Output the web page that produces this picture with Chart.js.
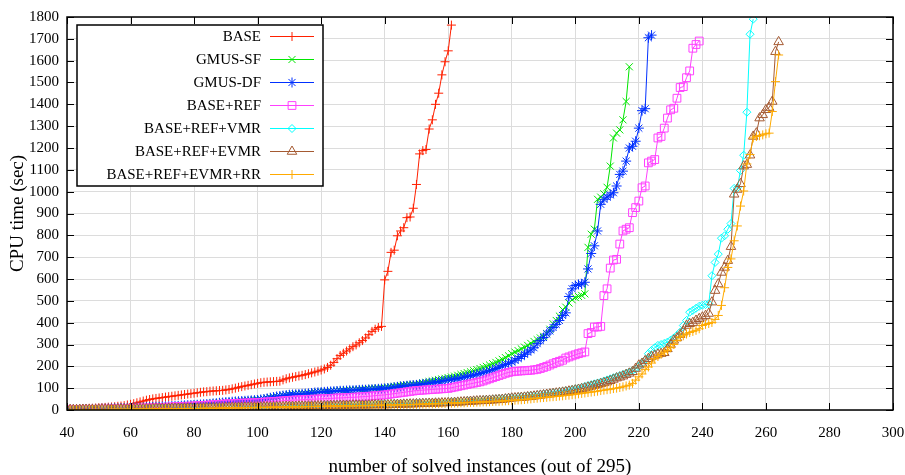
<!DOCTYPE html>
<html>
<head>
<meta charset="utf-8">
<title>CPU time cactus plot</title>
<script src="https://cdn.jsdelivr.net/npm/chart.js@4/dist/chart.umd.min.js"></script>
<style>
    html, body { margin: 0; padding: 0; background: #fff; }
    #wrap { width: 905px; height: 475px; }
</style>
</head>
<body>
<div id="wrap"><canvas id="cactus" width="905" height="475"></canvas></div>
<script>
// first instance shown on the x axis, every series goes one instance per value from here
const firstInstance = 40;

const seriesNames = ['BASE', 'GMUS-SF', 'GMUS-DF', 'BASE+REF', 'BASE+REF+VMR', 'BASE+REF+EVMR', 'BASE+REF+EVMR+RR'];

const xTicks = [40, 60, 80, 100, 120, 140, 160, 180, 200, 220, 240, 260, 280, 300];
const yTicks = [0, 100, 200, 300, 400, 500, 600, 700, 800, 900, 1000, 1100, 1200, 1300, 1400, 1500, 1600, 1700, 1800];

// CPU time (sec) of the sorted solved instances
const baseTimes = [
    4, 5, 5, 6, 6, 7, 7, 8, 8, 9,
    10, 11, 12, 13, 14, 15, 17, 18, 20, 23,
    26, 29, 33, 37, 41, 45, 48, 51, 53, 55,
    57, 59, 61, 63, 65, 67, 69, 71, 73, 75,
    77, 79, 81, 83, 84, 86, 87, 88, 89, 90,
    92, 94, 97, 100, 104, 107, 110, 113, 116, 119,
    122, 125, 127, 128, 129, 130, 131, 132, 138, 143,
    147, 150, 153, 156, 159, 162, 166, 170, 174, 178,
    183, 188, 195, 205, 218, 235, 250, 260, 270, 280,
    290, 298, 308, 318, 330, 345, 360, 370, 378, 383,
    596, 635, 722, 732, 798, 820, 835, 881, 884, 924,
    1033, 1173, 1188, 1193, 1287, 1329, 1400, 1451, 1535, 1595,
    1645, 1763
];

const gmusSfTimes = [
    2, 2, 3, 3, 4, 4, 4, 5, 5, 5,
    6, 6, 7, 7, 8, 8, 9, 9, 10, 10,
    11, 11, 12, 12, 13, 14, 14, 15, 16, 16,
    17, 17, 18, 19, 19, 20, 21, 22, 22, 23,
    24, 25, 26, 27, 28, 29, 31, 32, 33, 35,
    36, 37, 38, 39, 40, 42, 43, 44, 45, 46,
    47, 49, 51, 54, 57, 60, 62, 64, 66, 68,
    70, 72, 73, 74, 75, 76, 77, 79, 80, 82,
    83, 84, 85, 86, 87, 88, 89, 90, 91, 92,
    92, 93, 94, 95, 96, 97, 98, 99, 100, 101,
    102, 104, 106, 108, 110, 112, 114, 115, 116, 117,
    118, 121, 124, 127, 130, 133, 136, 139, 142, 145,
    148, 151, 155, 159, 163, 167, 171, 175, 180, 185,
    190, 195, 200, 206, 212, 218, 225, 232, 240, 248,
    258, 265, 272, 280, 288, 296, 305, 314, 322, 330,
    338, 350, 370, 395, 410, 430, 460, 471, 490, 505,
    515, 520, 525, 532, 745, 805, 828, 965, 975, 990,
    1020, 1117, 1246, 1268, 1283, 1329, 1413, 1572
];

const gmusDfTimes = [
    2, 2, 3, 3, 3, 4, 4, 4, 5, 5,
    5, 6, 6, 7, 7, 8, 8, 9, 9, 10,
    10, 11, 11, 12, 12, 13, 14, 14, 15, 15,
    16, 16, 17, 18, 18, 19, 20, 21, 22, 22,
    23, 24, 25, 26, 27, 28, 30, 31, 33, 34,
    36, 37, 38, 39, 40, 41, 42, 43, 44, 45,
    46, 48, 50, 53, 56, 59, 62, 64, 66, 68,
    70, 71, 72, 73, 74, 75, 76, 78, 80, 81,
    82, 83, 84, 85, 86, 87, 88, 88, 89, 90,
    90, 91, 92, 93, 93, 94, 95, 96, 97, 98,
    99, 100, 102, 104, 106, 108, 110, 111, 113, 114,
    115, 117, 119, 121, 123, 125, 127, 130, 132, 135,
    137, 139, 142, 144, 147, 150, 153, 157, 160, 164,
    167, 171, 175, 180, 185, 190, 196, 202, 208, 214,
    220, 228, 236, 245, 255, 265, 275, 285, 304, 318,
    332, 348, 362, 378, 392, 410, 433, 445, 520, 555,
    570, 575, 577, 585, 646, 717, 752, 820, 942, 965,
    975, 985, 995, 1026, 1079, 1094, 1140, 1200, 1208, 1231,
    1291, 1371, 1380, 1705, 1717
];

const baseRefTimes = [
    1, 1, 2, 2, 2, 2, 3, 3, 3, 3,
    4, 4, 4, 5, 5, 5, 6, 6, 6, 7,
    7, 8, 8, 9, 9, 10, 10, 11, 11, 12,
    12, 13, 13, 14, 15, 15, 16, 17, 17, 18,
    19, 20, 20, 21, 22, 23, 24, 25, 26, 27,
    28, 29, 29, 30, 31, 31, 32, 32, 33, 33,
    34, 35, 36, 37, 38, 39, 40, 41, 42, 43,
    44, 45, 46, 46, 47, 48, 48, 49, 50, 50,
    51, 52, 52, 53, 54, 55, 55, 56, 57, 58,
    58, 59, 60, 61, 62, 63, 64, 66, 67, 68,
    69, 71, 73, 75, 77, 79, 81, 83, 85, 87,
    89, 90, 91, 92, 93, 94, 95, 96, 97, 98,
    99, 102, 105, 108, 111, 114, 117, 120, 123, 126,
    129, 133, 138, 143, 148, 153, 158, 163, 168, 172,
    175, 177, 178, 179, 180, 181, 182, 184, 186, 190,
    195, 200, 206, 212, 218, 223, 228, 238, 243, 248,
    253, 258, 262, 266, 350, 355, 380, 380, 383, 524,
    555, 650, 687, 690, 760, 820, 828, 835, 904, 927,
    957, 1018, 1026, 1132, 1140, 1147, 1246, 1253, 1291, 1337,
    1375, 1382, 1428, 1477, 1481, 1522, 1553, 1657, 1674, 1690
];

const vmrTimes = [
    1, 1, 1, 2, 2, 2, 2, 2, 3, 3,
    3, 3, 3, 3, 4, 4, 4, 4, 4, 5,
    5, 5, 5, 5, 6, 6, 6, 6, 7, 7,
    7, 7, 8, 8, 8, 8, 9, 9, 9, 9,
    10, 10, 10, 10, 11, 11, 11, 12, 12, 12,
    12, 13, 13, 13, 14, 14, 14, 14, 15, 15,
    15, 16, 16, 16, 17, 17, 17, 18, 18, 18,
    19, 19, 19, 20, 20, 20, 21, 21, 21, 22,
    22, 22, 23, 23, 23, 24, 24, 24, 25, 25,
    25, 25, 26, 26, 26, 26, 27, 27, 27, 27,
    28, 28, 28, 29, 29, 29, 30, 30, 31, 31,
    32, 32, 33, 33, 34, 34, 35, 35, 36, 36,
    37, 37, 38, 39, 40, 41, 42, 43, 44, 45,
    46, 47, 48, 49, 50, 51, 52, 53, 55, 57,
    58, 59, 60, 62, 63, 64, 66, 67, 69, 71,
    73, 75, 77, 79, 81, 83, 86, 88, 91, 94,
    97, 100, 104, 108, 112, 116, 120, 124, 128, 133,
    138, 143, 148, 153, 158, 163, 168, 174, 180, 188,
    200, 213, 230, 258, 273, 285, 296, 300, 305, 311,
    320, 330, 342, 357, 387, 410, 448, 456, 466, 475,
    480, 483, 486, 615, 676, 714, 787, 798, 828, 854,
    1015, 1018, 1097, 1167, 1364, 1721, 1790
];

const evmrTimes = [
    1, 1, 1, 1, 2, 2, 2, 2, 2, 2,
    3, 3, 3, 3, 3, 3, 4, 4, 4, 4,
    4, 4, 5, 5, 5, 5, 5, 6, 6, 6,
    6, 6, 7, 7, 7, 7, 7, 8, 8, 8,
    8, 8, 9, 9, 9, 9, 10, 10, 10, 10,
    11, 11, 11, 11, 12, 12, 12, 12, 13, 13,
    13, 13, 14, 14, 14, 14, 15, 15, 15, 16,
    16, 16, 16, 17, 17, 17, 18, 18, 18, 19,
    19, 19, 19, 20, 20, 20, 21, 21, 21, 21,
    22, 22, 22, 22, 22, 22, 23, 23, 23, 23,
    23, 23, 24, 24, 25, 25, 26, 26, 27, 27,
    28, 28, 29, 29, 30, 30, 31, 31, 32, 32,
    33, 33, 34, 35, 36, 37, 38, 39, 40, 41,
    42, 42, 43, 44, 45, 46, 47, 48, 50, 52,
    54, 55, 56, 57, 58, 60, 61, 63, 65, 67,
    69, 71, 73, 75, 77, 79, 81, 83, 86, 88,
    91, 94, 97, 100, 104, 108, 112, 116, 120, 124,
    128, 134, 140, 146, 150, 155, 162, 168, 175, 190,
    205, 213, 225, 235, 245, 250, 255, 258, 262, 280,
    300, 319, 330, 345, 360, 387, 395, 400, 410, 418,
    425, 432, 442, 494, 547, 577, 630, 653, 684, 748,
    988, 1010, 1036, 1117, 1124, 1167, 1253, 1268, 1337, 1352,
    1375, 1385, 1413, 1641, 1686
];

const rrTimes = [
    1, 1, 1, 1, 1, 1, 2, 2, 2, 2,
    2, 2, 2, 2, 3, 3, 3, 3, 3, 3,
    3, 4, 4, 4, 4, 4, 4, 5, 5, 5,
    5, 5, 5, 6, 6, 6, 6, 6, 7, 7,
    7, 7, 7, 8, 8, 8, 8, 8, 9, 9,
    9, 9, 10, 10, 10, 10, 11, 11, 11, 11,
    12, 12, 12, 12, 13, 13, 13, 13, 14, 14,
    14, 14, 15, 15, 15, 15, 16, 16, 16, 17,
    17, 17, 17, 18, 18, 18, 18, 19, 19, 19,
    19, 20, 20, 20, 20, 21, 21, 21, 21, 22,
    22, 22, 23, 23, 23, 24, 24, 24, 25, 25,
    26, 26, 27, 27, 28, 28, 29, 29, 30, 30,
    31, 31, 32, 32, 33, 33, 34, 35, 35, 36,
    36, 37, 37, 38, 39, 40, 40, 41, 42, 43,
    44, 45, 46, 47, 48, 50, 51, 53, 54, 56,
    57, 58, 60, 61, 62, 64, 65, 67, 68, 70,
    72, 74, 76, 78, 80, 82, 84, 86, 89, 91,
    93, 95, 98, 100, 103, 106, 110, 114, 122, 137,
    152, 165, 185, 197, 215, 235, 245, 255, 265, 273,
    285, 300, 318, 334, 340, 348, 355, 360, 365, 372,
    387, 392, 396, 401, 415, 433, 479, 560, 653, 692,
    775, 843, 934, 1003, 1127, 1170, 1246, 1253, 1256, 1260,
    1265, 1268, 1367, 1504, 1626
];

const seriesTimes = [baseTimes, gmusSfTimes, gmusDfTimes, baseRefTimes, vmrTimes, evmrTimes, rrTimes];
const seriesColors = ['rgb(255,32,0)', 'rgb(0,230,0)', 'rgb(0,48,255)', 'rgb(255,64,255)', 'rgb(0,255,255)', 'rgb(165,90,50)', 'rgb(255,170,0)'];
const seriesMarkers = ['cross', 'crossRot', 'star', 'rect', 'rectRot', 'triangle', 'cross'];
const seriesMarkerSize = [4.5, 5, 5, 5.5, 4, 5.5, 4.5];

const serif = "'Liberation Serif', 'Times New Roman', serif";

function toPoints( times )
{
    return times.map( ( t, i ) => ( { x: firstInstance + i, y: t } ) );
}

function buildDatasets()
{
    return seriesNames.map( ( name, i ) => ( {
        label: name,
        data: toPoints( seriesTimes[ i ] ),
        borderColor: seriesColors[ i ],
        backgroundColor: 'rgba(0,0,0,0)',
        borderWidth: 1,
        pointStyle: seriesMarkers[ i ],
        pointRadius: seriesMarkerSize[ i ],
        pointBorderWidth: 1,
        pointBorderColor: seriesColors[ i ],
        pointBackgroundColor: 'rgba(0,0,0,0)',
        tension: 0,
        // later series are drawn on top, as in the original plot
        order: seriesNames.length - i
    } ) );
}

// gnuplot style: inward ticks on all four sides, frame and an opaque key box
const frameAndKey = {
    id: 'frameAndKey',
    afterDraw( chart )
    {
        const ctx = chart.ctx;
        const area = chart.chartArea;
        const xs = chart.scales.x;
        const ys = chart.scales.y;
        const tickLen = 7;

        ctx.save();
        ctx.strokeStyle = '#000';
        ctx.lineWidth = 1;
        ctx.beginPath();
        xTicks.forEach( v =>
        {
            const px = Math.round( xs.getPixelForValue( v ) ) + 0.5;
            ctx.moveTo( px, area.bottom );
            ctx.lineTo( px, area.bottom - tickLen );
            ctx.moveTo( px, area.top );
            ctx.lineTo( px, area.top + tickLen );
        } );
        yTicks.forEach( v =>
        {
            const py = Math.round( ys.getPixelForValue( v ) ) + 0.5;
            ctx.moveTo( area.left, py );
            ctx.lineTo( area.left + tickLen, py );
            ctx.moveTo( area.right, py );
            ctx.lineTo( area.right - tickLen, py );
        } );
        ctx.stroke();

        ctx.lineWidth = 1.5;
        ctx.strokeRect( area.left, area.top, area.width, area.height );

        // key
        const key = { left: area.left + 10, top: area.top + 8, width: 246, rowH: 23 };
        const keyH = key.rowH * seriesNames.length;
        ctx.fillStyle = '#fff';
        ctx.fillRect( key.left, key.top, key.width, keyH );
        ctx.strokeRect( key.left, key.top, key.width, keyH );

        ctx.font = '15px ' + serif;
        ctx.textAlign = 'right';
        ctx.textBaseline = 'middle';
        chart.data.datasets.forEach( ( ds, i ) =>
        {
            const y = key.top + 11 + i * key.rowH;
            ctx.fillStyle = '#000';
            ctx.fillText( ds.label, key.left + 184, y + 1 );
            ctx.strokeStyle = ds.borderColor;
            ctx.lineWidth = 1;
            ctx.beginPath();
            ctx.moveTo( key.left + 193, y + 0.5 );
            ctx.lineTo( key.left + 237, y + 0.5 );
            ctx.stroke();
            ctx.fillStyle = 'rgba(0,0,0,0)';
            Chart.helpers.drawPoint( ctx, {
                pointStyle: ds.pointStyle,
                radius: ds.pointRadius,
                borderWidth: 1,
                rotation: 0
            }, key.left + 215, y + 0.5 );
        } );
        ctx.restore();
    }
};

const cactusConfig = {
    type: 'line',
    data: { datasets: buildDatasets() },
    options: {
        responsive: false,
        devicePixelRatio: 1,
        animation: false,
        events: [],
        layout: { padding: { top: 15, right: 0, left: 0, bottom: 0 } },
        plugins: {
            legend: { display: false },
            tooltip: { enabled: false },
            title: { display: false }
        },
        scales: {
            x: {
                type: 'linear',
                min: 40,
                max: 300,
                afterFit: function ( scale )
                {
                    scale.height = 65;
                    // keep the plot frame at a fixed right margin
                    scale.paddingLeft = 0;
                    scale.paddingRight = 12;
                },
                afterBuildTicks: function ( scale ) { scale.ticks = xTicks.map( v => ( { value: v } ) ); },
                ticks: {
                    color: '#000',
                    font: { family: serif, size: 15 },
                    padding: 14,
                    maxRotation: 0,
                    callback: function ( value ) { return String( value ); }
                },
                grid: { color: 'rgb(220,220,220)', lineWidth: 1, drawTicks: false },
                border: { display: false },
                title: {
                    display: true,
                    text: 'number of solved instances (out of 295)',
                    color: '#000',
                    font: { family: serif, size: 19, lineHeight: 0.8 },
                    padding: { top: 0, bottom: 0 }
                }
            },
            y: {
                type: 'linear',
                min: 0,
                max: 1800,
                afterFit: function ( scale ) { scale.width = 67; },
                afterBuildTicks: function ( scale ) { scale.ticks = yTicks.map( v => ( { value: v } ) ); },
                ticks: {
                    color: '#000',
                    font: { family: serif, size: 15 },
                    padding: 8,
                    callback: function ( value ) { return String( value ); }
                },
                grid: { color: 'rgb(220,220,220)', lineWidth: 1, drawTicks: false },
                border: { display: false },
                title: {
                    display: true,
                    text: 'CPU time (sec)',
                    color: '#000',
                    font: { family: serif, size: 19, lineHeight: 1 },
                    padding: { top: 9, bottom: 0 }
                }
            }
        }
    },
    plugins: [ frameAndKey ]
};

new Chart( document.getElementById( 'cactus' ).getContext( '2d' ), cactusConfig );
</script>
</body>
</html>
